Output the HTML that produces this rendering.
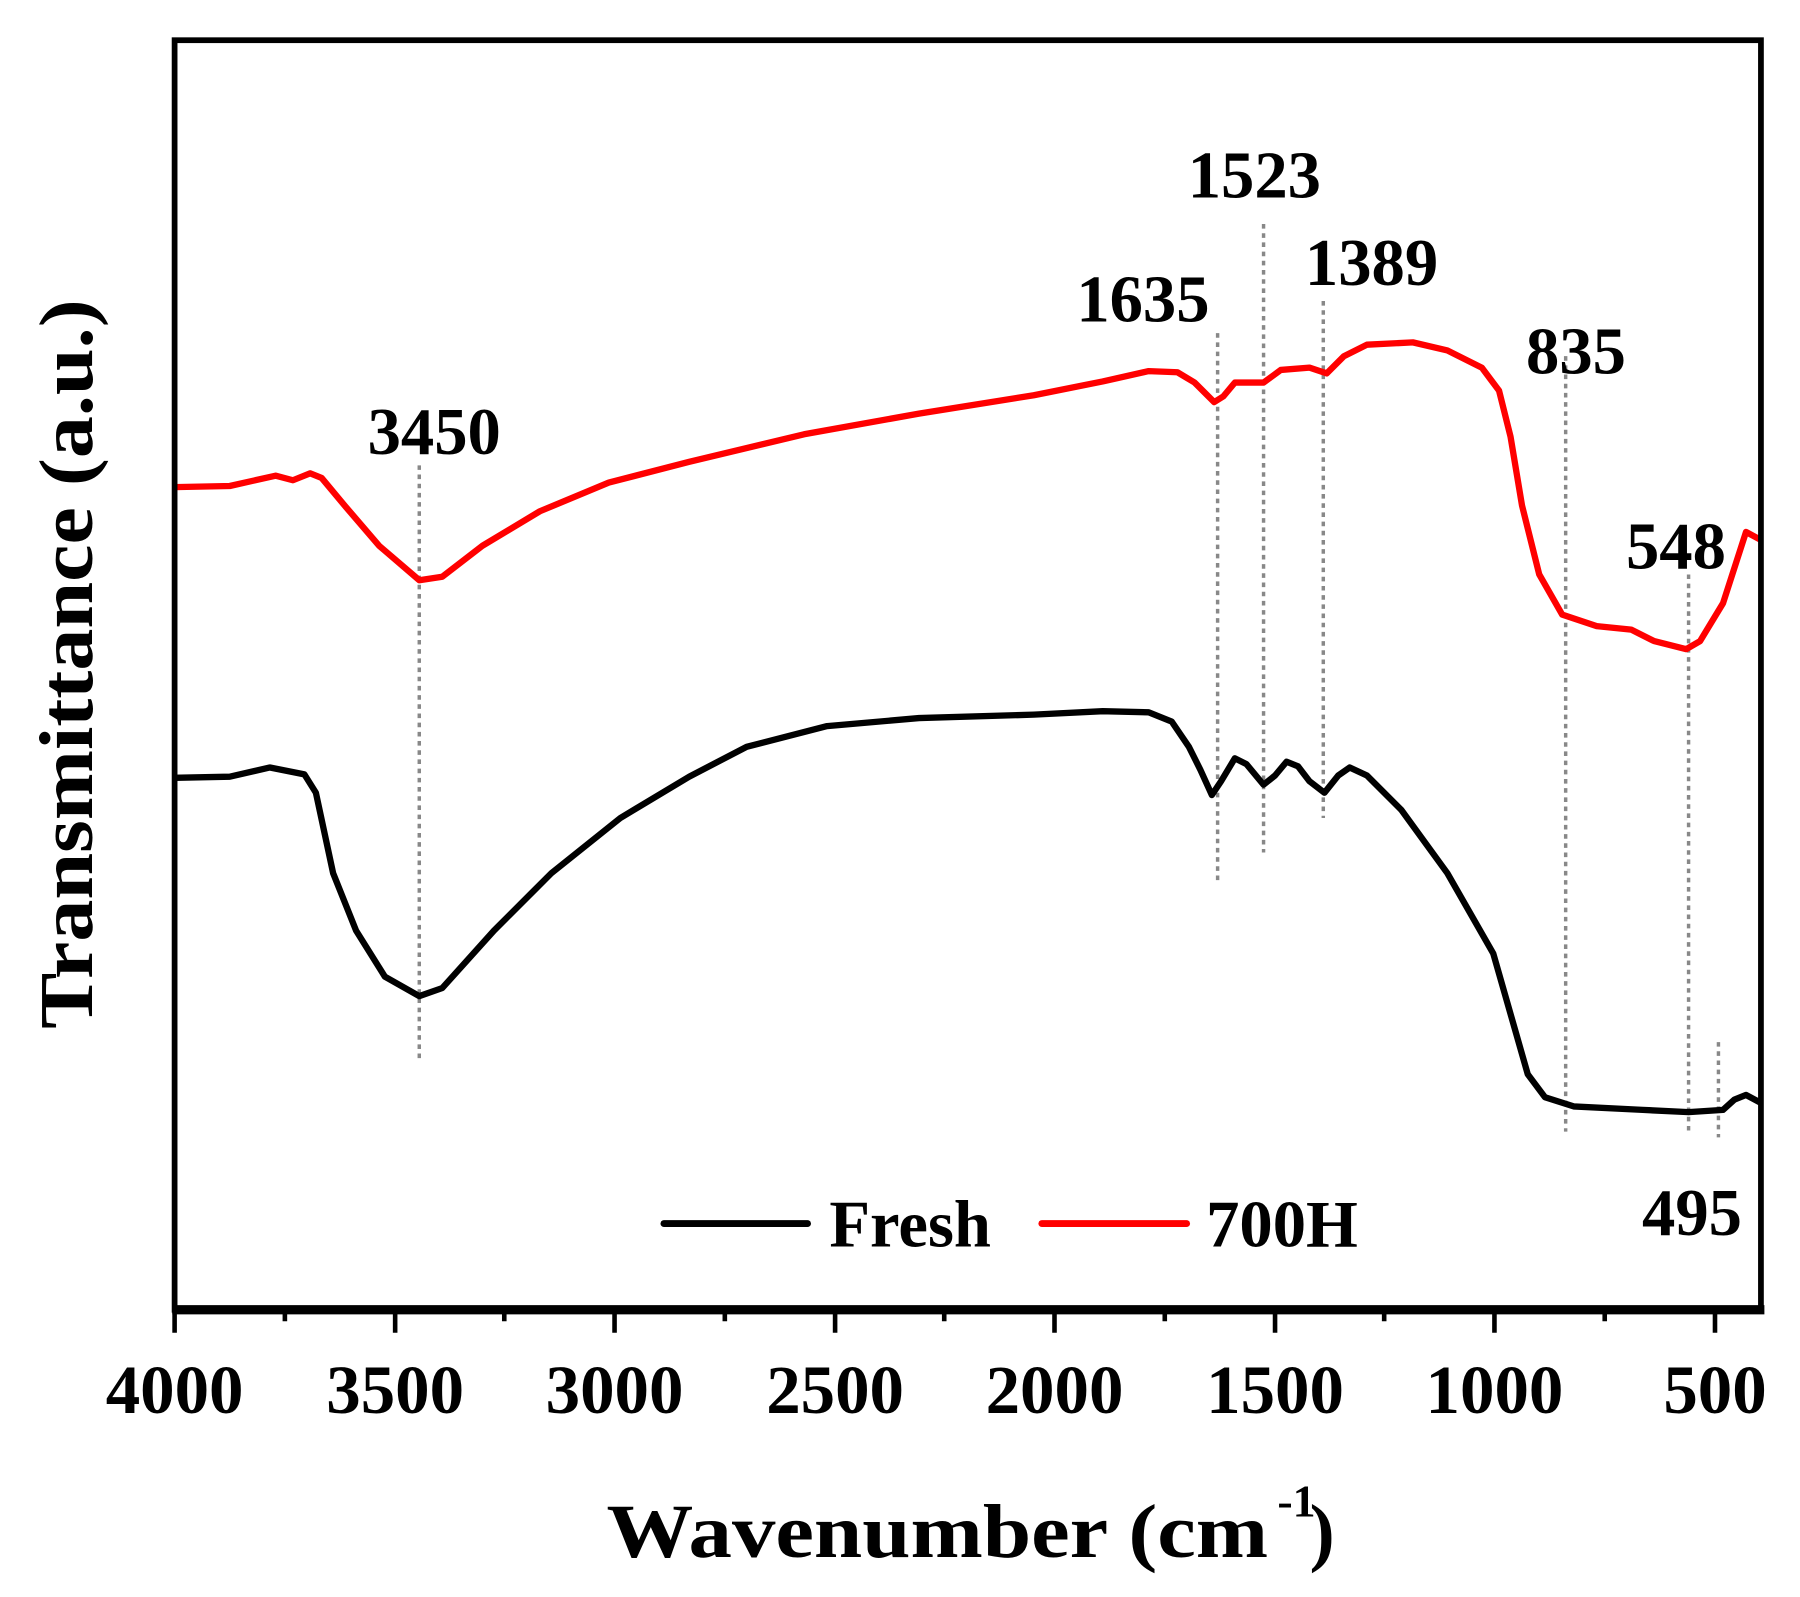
<!DOCTYPE html>
<html><head><meta charset="utf-8"><style>html,body{margin:0;padding:0;background:#fff}svg{display:block}</style></head>
<body>
<svg width="1800" height="1597" viewBox="0 0 1567 1390" preserveAspectRatio="none" xmlns="http://www.w3.org/2000/svg" font-family="Liberation Serif, serif" font-weight="bold">
<rect width="1567" height="1390" fill="#fff"/>
<g stroke="#888" stroke-width="3" stroke-dasharray="4,4" fill="none">
<line x1="365" y1="405" x2="365" y2="925"/>
<line x1="1060" y1="290" x2="1060" y2="770"/>
<line x1="1100" y1="195" x2="1100" y2="742"/>
<line x1="1152" y1="262" x2="1152" y2="712"/>
<line x1="1363" y1="310" x2="1363" y2="985"/>
<line x1="1470" y1="500" x2="1470" y2="988"/>
<line x1="1496" y1="907" x2="1496" y2="990"/>
</g>
<path fill="none" stroke="#f00" stroke-width="5.5" stroke-linejoin="round" d="M152,424 L200,423 L240,414 L255,418 L270,412 L280,416 L300,440 L330,475 L365,505 L385,502 L420,475 L470,445 L530,420 L600,402 L700,378 L800,360 L900,344 L960,332 L1000,323 L1025,324 L1040,333 L1057,350 L1065,345 L1075,333 L1100,333 L1115,322 L1140,320 L1155,325 L1170,310 L1190,300 L1230,298 L1260,305 L1290,320 L1305,340 L1315,380 L1325,440 L1340,500 L1360,535 L1390,545 L1420,548 L1440,558 L1468,565 L1480,558 L1500,525 L1520,463 L1533,470"/>
<path fill="none" stroke="#000" stroke-width="5.5" stroke-linejoin="round" d="M152,677 L200,676 L235,668 L265,674 L275,690 L290,760 L310,810 L335,850 L365,867 L385,860 L430,810 L480,760 L540,712 L600,676 L650,650 L720,632 L800,625 L900,622 L960,619 L1000,620 L1020,628 L1035,650 L1045,670 L1055,692 L1063,680 L1075,660 L1085,665 L1100,683 L1110,675 L1120,663 L1130,667 L1140,680 L1153,690 L1165,675 L1175,668 L1190,675 L1220,705 L1260,760 L1300,830 L1320,900 L1330,935 L1345,955 L1370,963 L1430,966 L1470,968 L1500,966 L1510,957 L1520,953 L1533,960"/>
<rect x="152" y="35" width="1381" height="1105" fill="none" stroke="#000" stroke-width="5"/>
<line x1="150" y1="1140" x2="1536" y2="1140" stroke="#000" stroke-width="8"/>
<g stroke="#000" stroke-width="4">
<line x1="152" y1="1140" x2="152" y2="1160"/><line x1="344" y1="1140" x2="344" y2="1160"/><line x1="535" y1="1140" x2="535" y2="1160"/><line x1="727" y1="1140" x2="727" y2="1160"/><line x1="918" y1="1140" x2="918" y2="1160"/><line x1="1110" y1="1140" x2="1110" y2="1160"/><line x1="1301" y1="1140" x2="1301" y2="1160"/><line x1="1493" y1="1140" x2="1493" y2="1160"/>
<line x1="248" y1="1140" x2="248" y2="1150"/><line x1="439" y1="1140" x2="439" y2="1150"/><line x1="631" y1="1140" x2="631" y2="1150"/><line x1="822" y1="1140" x2="822" y2="1150"/><line x1="1014" y1="1140" x2="1014" y2="1150"/><line x1="1205" y1="1140" x2="1205" y2="1150"/><line x1="1397" y1="1140" x2="1397" y2="1150"/>
</g>
<g font-size="60" text-anchor="middle">
<text x="152" y="1230">4000</text><text x="344" y="1230">3500</text><text x="535" y="1230">3000</text><text x="727" y="1230">2500</text><text x="918" y="1230">2000</text><text x="1110" y="1230">1500</text><text x="1301" y="1230">1000</text><text x="1493" y="1230">500</text>
</g>
<text x="528" y="1355" font-size="66" textLength="576" lengthAdjust="spacingAndGlyphs">Wavenumber (cm</text>
<text x="1112" y="1320" font-size="40">-1</text>
<text x="1140" y="1355" font-size="66">)</text>
<text transform="translate(80,578) rotate(-90)" font-size="66" text-anchor="middle" textLength="635" lengthAdjust="spacingAndGlyphs">Transmittance (a.u.)</text>
<g font-size="58" text-anchor="middle">
<text x="378" y="395">3450</text>
<text x="995" y="280">1635</text>
<text x="1092" y="172">1523</text>
<text x="1194" y="248">1389</text>
<text x="1372" y="325">835</text>
<text x="1459" y="495">548</text>
<text x="1473" y="1075">495</text>
</g>
<line x1="578" y1="1065" x2="703" y2="1065" stroke="#000" stroke-width="6" stroke-linecap="round"/>
<text x="722" y="1085" font-size="58">Fresh</text>
<line x1="907" y1="1065" x2="1033" y2="1065" stroke="#f00" stroke-width="6" stroke-linecap="round"/>
<text x="1050" y="1085" font-size="58">700H</text>
</svg>
</body></html>
